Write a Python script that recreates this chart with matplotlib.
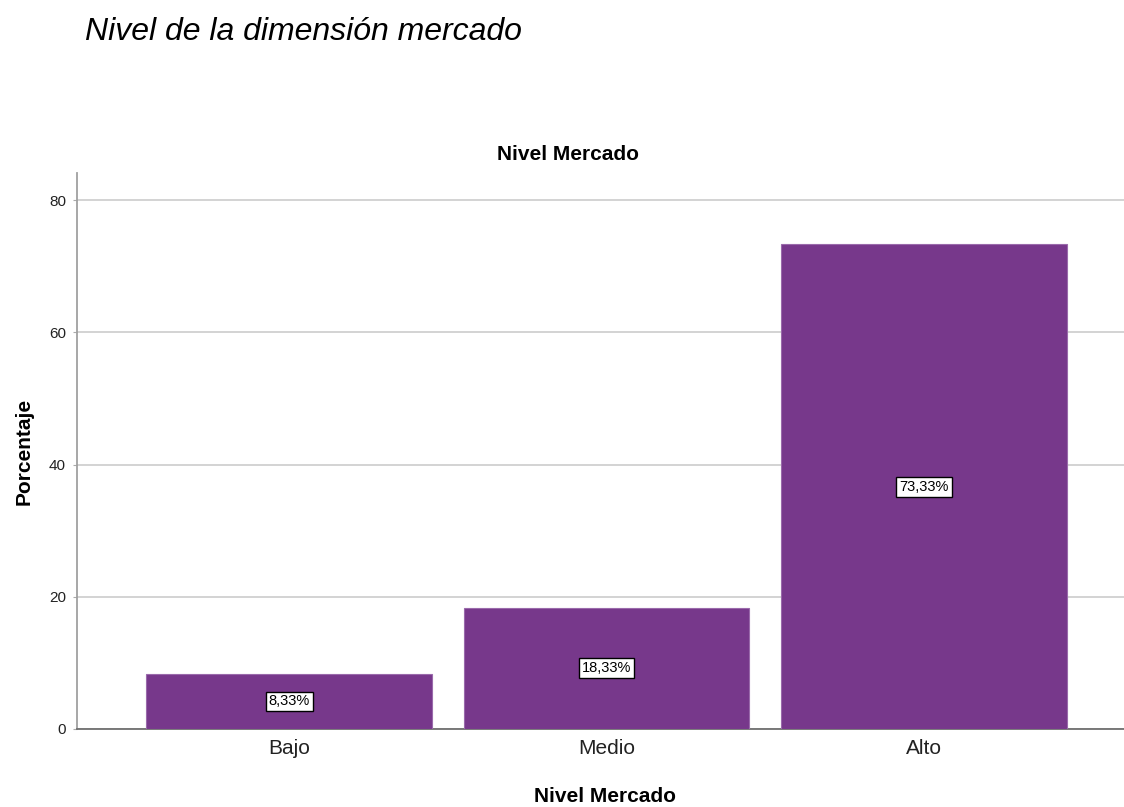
import matplotlib.pyplot as plt

plt.rcParams['font.family'] = ['Liberation Sans', 'DejaVu Sans']

niveles = ['Bajo', 'Medio', 'Alto']
porcentajes = [8.33, 18.33, 73.33]
etiquetas = ['8,33%', '18,33%', '73,33%']
ticks_y = [0, 20, 40, 60, 80]

W, H = 1124, 807
fig = plt.figure(figsize=(W / 100, H / 100), dpi=100)

# axes placed in pixel terms, running off the right edge
left, right, bottom, top = 77, 1124, 729, 173
ax = fig.add_axes([left / W, (H - bottom) / H, (right - left) / W, (bottom - top) / H])

x = range(len(niveles))
ax.bar(x, porcentajes, width=0.9, color='#77388B', edgecolor='#9a6aab', linewidth=0.8, zorder=3)

for i, (v, txt) in enumerate(zip(porcentajes, etiquetas)):
    ax.text(i, v / 2, txt, ha='center', va='center', fontsize=10.5, color='black', zorder=4,
            bbox=dict(boxstyle='square,pad=0.2', fc='white', ec='black', lw=1))

ax.set_xlim(-0.668, 2.63)
ax.set_ylim(0, 84.1)
ax.set_yticks(ticks_y)
ax.set_xticks(list(x))
ax.set_xticklabels(niveles, fontsize=15, color='#222222')
ax.tick_params(axis='x', length=0, pad=7)
ax.tick_params(axis='y', length=3, color='#aaaaaa', labelsize=11, labelcolor='#222222', pad=5)

ax.yaxis.grid(True, color='#d0d0d0', linewidth=1.3, zorder=0)
ax.set_axisbelow(True)

for s in ['top', 'right']:
    ax.spines[s].set_visible(False)
ax.spines['left'].set_color('#a0a0a0')
ax.spines['left'].set_linewidth(1.3)
ax.spines['bottom'].set_color('#707070')
ax.spines['bottom'].set_linewidth(1.3)

fig.text(24 / W, 1 - 451 / H, 'Porcentaje', ha='center', va='center', rotation=90,
         fontsize=15, fontweight='bold')
fig.text(568 / W, 1 - 155 / H, 'Nivel Mercado', ha='center', va='center', fontsize=15, fontweight='bold')
fig.text(605 / W, 1 - 796 / H, 'Nivel Mercado', ha='center', va='center', fontsize=15, fontweight='bold')
fig.text(85 / W, 1 - 32 / H, 'Nivel de la dimensión mercado', ha='left', va='center',
         fontsize=23, style='italic')

fig.savefig('out.png', dpi=100)
